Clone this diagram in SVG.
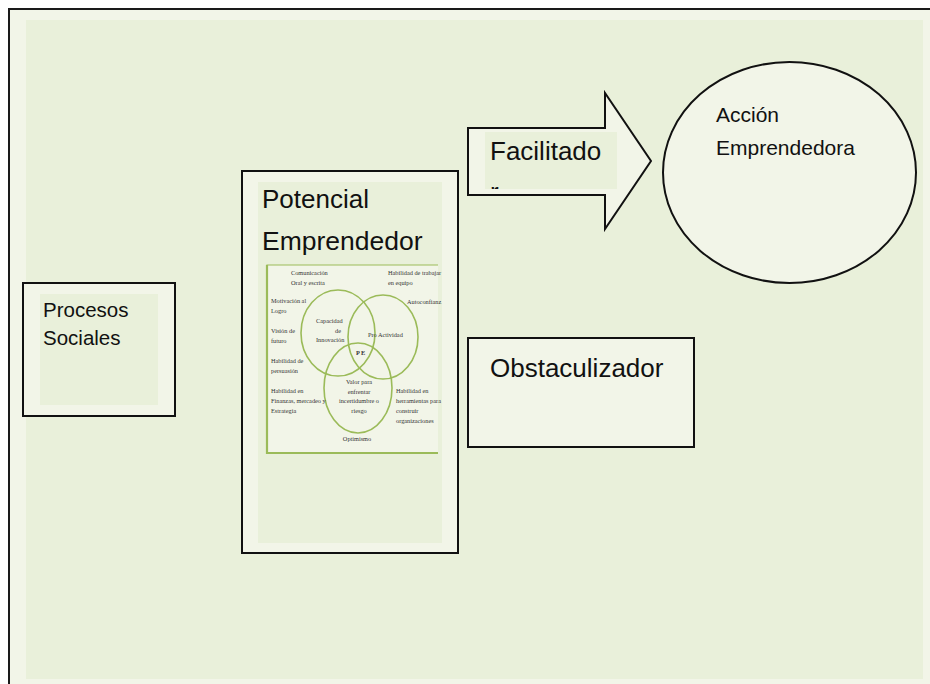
<svg xmlns="http://www.w3.org/2000/svg" width="930" height="684" viewBox="0 0 930 684">
<style>
.lt{fill:#F2F5E8}
.dk{fill:#E9F0DA}
.shape{fill:#F2F5E8;stroke:#111;stroke-width:2}
.big{font-family:"Liberation Sans",Arial,sans-serif;fill:#111}
.sm{font-family:"Liberation Serif","Times New Roman",serif;font-size:6.3px;fill:#333}
.ven{fill:none;stroke:#9BBB59;stroke-width:1.6}
</style>
<defs>
<clipPath id="arrowText"><rect x="485" y="132" width="132" height="57"/></clipPath>
</defs>
<rect width="930" height="684" fill="#ffffff"/>
<g id="background">
<rect x="9" y="9" width="921" height="675" class="lt"/>
<rect x="26" y="20" width="897" height="659" class="dk"/>
<path d="M9,684 V9 H930" fill="none" stroke="#1a1a1a" stroke-width="2"/>
</g>
<g id="procesos-sociales">
<rect x="23" y="283" width="152" height="133" class="shape"/>
<rect x="40" y="294" width="118" height="111" class="dk"/>
<text class="big" font-size="20.5" x="43" y="317">Procesos</text>
<text class="big" font-size="20.5" x="43" y="345">Sociales</text>
</g>
<g id="potencial-emprendedor">
<rect x="242" y="171" width="216" height="382" class="shape"/>
<rect x="258" y="182" width="184" height="361" class="dk"/>
<text class="big" font-size="26" x="262" y="208">Potencial</text>
<text class="big" font-size="26.5" x="262" y="250">Emprendedor</text>
<g id="venn">
<rect x="267" y="265" width="171" height="188" class="lt"/>
<path d="M438,265 H267 V453 H438" fill="none" stroke="#9BBB59" stroke-width="1.2"/>
<path d="M267,265 V453 H438" fill="none" stroke="#9BBB59" stroke-width="2.2"/>
<ellipse class="ven" cx="338" cy="333" rx="37" ry="43"/>
<ellipse class="ven" cx="383" cy="337" rx="35" ry="42"/>
<ellipse class="ven" cx="358" cy="388" rx="34" ry="45"/>
<text class="sm" x="291" y="275">Comunicación</text>
<text class="sm" x="291" y="285">Oral y escrita</text>
<text class="sm" x="388" y="275">Habilidad de trabajar</text>
<text class="sm" x="388" y="285">en equipo</text>
<text class="sm" x="271" y="303">Motivación  al</text>
<text class="sm" x="271" y="313">Logro</text>
<text class="sm" x="407" y="304">Autoconfianz</text>
<text class="sm" x="316" y="323">Capacidad</text>
<text class="sm" x="335" y="333">de</text>
<text class="sm" x="316" y="342">Innovación</text>
<text class="sm" x="271" y="333">Visión de</text>
<text class="sm" x="271" y="343">futuro</text>
<text class="sm" x="368" y="337">Pro Actividad</text>
<text class="sm" x="356" y="355" font-weight="bold" font-size="7">P E</text>
<text class="sm" x="271" y="363">Habilidad  de</text>
<text class="sm" x="271" y="373">persuasión</text>
<text class="sm" x="271" y="393">Habilidad en</text>
<text class="sm" x="271" y="403">Finanzas, mercadeo y</text>
<text class="sm" x="271" y="413">Estrategia</text>
<text class="sm" x="359" y="384" text-anchor="middle">Valor para</text>
<text class="sm" x="359" y="394" text-anchor="middle">enfrentar</text>
<text class="sm" x="359" y="403" text-anchor="middle">incertidumbre o</text>
<text class="sm" x="359" y="413" text-anchor="middle">riesgo</text>
<text class="sm" x="396" y="393">Habilidad en</text>
<text class="sm" x="396" y="403">herramientas para</text>
<text class="sm" x="396" y="413">construir</text>
<text class="sm" x="396" y="423">organizaciones</text>
<text class="sm" x="357" y="441" text-anchor="middle">Optimismo</text>
</g>
</g>
<g id="connectors">
<g id="facilitador">
<polygon points="468,128 605,128 605,93 651,161 605,229 605,195 468,195" class="shape"/>
<rect x="485" y="132" width="132" height="57" class="dk"/>
<g clip-path="url(#arrowText)">
<text class="big" font-size="26" x="490" y="160">Facilitado</text>
<text class="big" font-size="26" x="490" y="201">r</text>
</g>
</g>
</g>
<g id="accion-emprendedora">
<ellipse cx="789.5" cy="172.5" rx="126.5" ry="110.5" class="shape"/>
<text class="big" font-size="21" x="716" y="122">Acción</text>
<text class="big" font-size="21" x="716" y="155">Emprendedora</text>
</g>
<g id="obstaculizador">
<rect x="468" y="338" width="226" height="109" class="shape"/>
<text class="big" font-size="26" x="490" y="377">Obstaculizador</text>
</g>
</svg>
